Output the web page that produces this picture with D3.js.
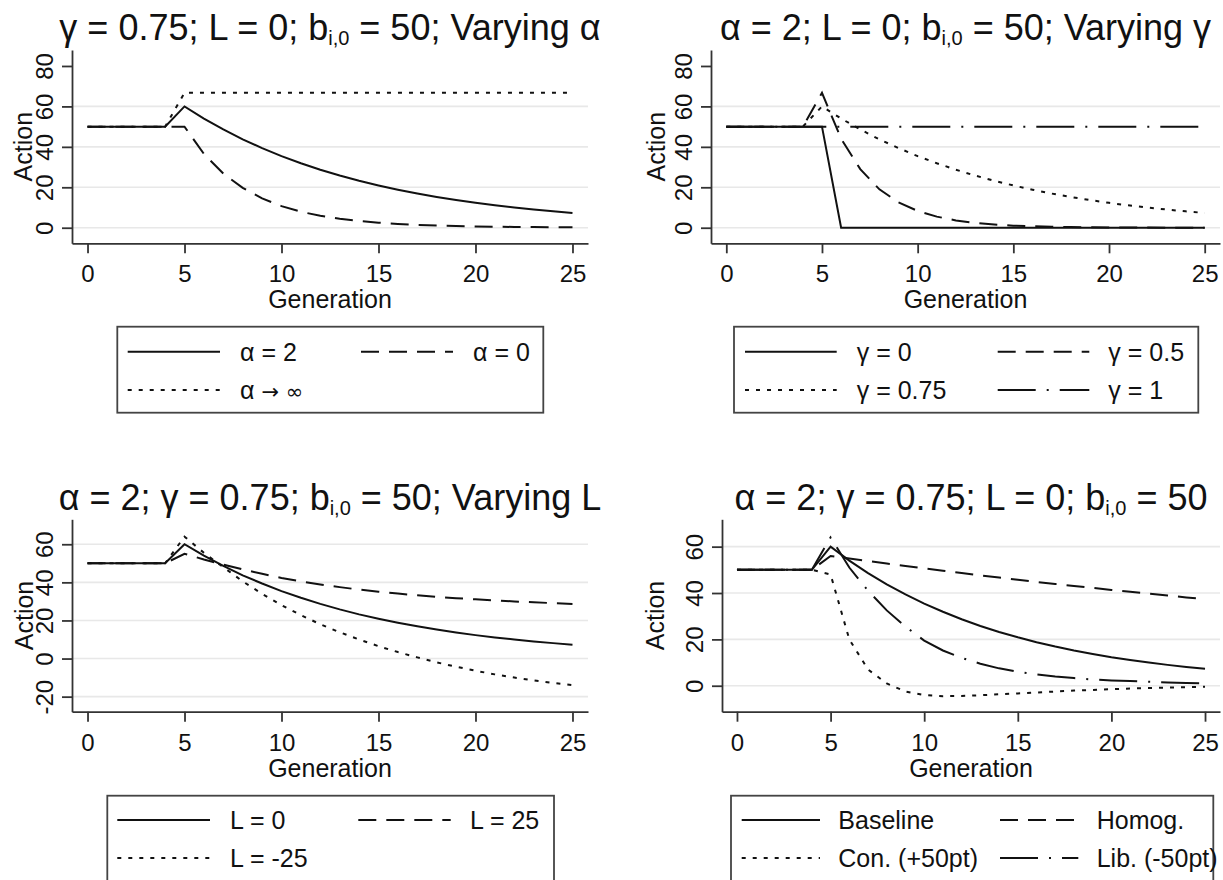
<!DOCTYPE html>
<html>
<head>
<meta charset="utf-8">
<script src="https://cdn.jsdelivr.net/npm/d3@7"></script>
<style>
  body { margin: 0; background: #fff; }
  svg { font-family: "Liberation Sans", Arial, sans-serif; }
</style>
</head>
<body>
<script>
// generations on the x axis
const generations = [0,1,2,3,4,5,6,7,8,9,10,11,12,13,14,15,16,17,18,19,20,21,22,23,24,25];
const xTicks = [0, 5, 10, 15, 20, 25];

// y ticks / gridlines per panel
const yTicksTop = [0, 20, 40, 60, 80];
const gridTop = [0, 20, 40, 60];
const yTicksL = [-20, 0, 20, 40, 60];
const gridL = [-20, 0, 20, 40, 60];
const yTicksLast = [0, 20, 40, 60];
const gridLast = [0, 20, 40, 60];

// alpha = 2, gamma = 0.75, L = 0 (same run in all four panels)
const baseline = [50,50,50,50,50,60,54,48.6,43.7,39.4,35.4,31.9,28.7,25.8,23.2,20.9,18.8,16.9,15.2,13.7,12.3,11.1,10.0,9.0,8.1,7.3];

// panel 1: varying alpha
const alpha0 = [50,50,50,50,50,50,36.5,26.8,19.7,14.5,10.7,7.9,5.9,4.4,3.3,2.5,1.9,1.4,1.1,0.8,0.6,0.5,0.4,0.3,0.2,0.2];
const alphaInf = [50,50,50,50,50,66.7,66.7,66.7,66.7,66.7,66.7,66.7,66.7,66.7,66.7,66.7,66.7,66.7,66.7,66.7,66.7,66.7,66.7,66.7,66.7,66.7];

// panel 2: varying gamma
const gamma0 = [50,50,50,50,50,50,0,0,0,0,0,0,0,0,0,0,0,0,0,0,0,0,0,0,0,0];
const gamma05 = [50,50,50,50,50,66.7,44,29,19,12.5,8.3,5.5,3.6,2.4,1.6,1.0,0.7,0.5,0.3,0.2,0.15,0.1,0.07,0.05,0.03,0.02];
const gamma1 = [50,50,50,50,50,50,50,50,50,50,50,50,50,50,50,50,50,50,50,50,50,50,50,50,50,50];

// panel 3: varying L
const L25 = [50,50,50,50,50,55,52,49.3,46.8,44.5,42.3,40.5,38.9,37.5,36.2,35.1,34.1,33.2,32.4,31.7,31.1,30.5,30.0,29.5,29.1,28.7];
const Lm25 = [50,50,50,50,50,64,55.5,48,40.5,34,28,22.8,18,13.8,10,6.5,3.4,0.6,-2,-4.3,-6.4,-8.3,-10,-11.5,-12.8,-14];

// panel 4: heterogeneity
const homog = [50,50,50,50,50,56,54.9,53.8,52.7,51.7,50.6,49.6,48.6,47.6,46.7,45.7,44.8,43.9,43.0,42.2,41.3,40.5,39.7,38.9,38.1,37.4];
const con50 = [50,50,50,50,50,48,20,7,1,-2.5,-4,-4.5,-4.4,-4.1,-3.7,-3.3,-2.9,-2.5,-2.1,-1.8,-1.5,-1.2,-1,-0.8,-0.6,-0.4];
const lib50 = [50,50,50,50,50,64,51,41,32.5,25.5,19.5,15.2,12,9.5,7.5,6,4.9,4,3.3,2.7,2.3,2,1.7,1.4,1.2,1.0];

// line patterns
const dashes = {
  solid: null,
  dash: "18,10",
  dot: "4,7",
  dashdot: "38,11,2,11"
};

const panels = [
  {
    frame: {l: 72, r: 588, t: 50, b: 243.3},
    yDomain: [-7.7, 87.9], yTicks: yTicksTop, grid: gridTop,
    titleY: 39.5, pre: "γ = 0.75; L = 0; b", post: " = 50; Varying α",
    actionX: 31.5,
    series: [[baseline, "solid"], [alpha0, "dash"], [alphaInf, "dot"]],
    labels: [[["α = 2"]], [["α = 0"]], [["α "], ["→ ∞", 21]]],
    legend: {box: [117.3, 543.3, 326.7, 412.7], cols: [[127.7, 220, 240], [361, 453, 473]], rows: [351.7, 390]}
  },
  {
    frame: {l: 711, r: 1220, t: 50, b: 243.3},
    yDomain: [-7.7, 87.9], yTicks: yTicksTop, grid: gridTop,
    titleY: 39.5, pre: "α = 2; L = 0; b", post: " = 50; Varying γ",
    actionX: 665,
    series: [[gamma0, "solid"], [gamma05, "dash"], [baseline, "dot"], [gamma1, "dashdot"]],
    labels: [[["γ = 0"]], [["γ = 0.5"]], [["γ = 0.75"]], [["γ = 1"]]],
    legend: {box: [734, 1198.3, 326.7, 412.7], cols: [[745, 836.7, 856.7], [997.7, 1089.3, 1108.3]], rows: [351.7, 390]}
  },
  {
    frame: {l: 72, r: 588, t: 519.3, b: 711.7},
    yDomain: [-27.9, 73.1], yTicks: yTicksL, grid: gridL,
    titleY: 509.5, pre: "α = 2; γ = 0.75; b", post: " = 50; Varying L",
    actionX: 33,
    series: [[baseline, "solid"], [L25, "dash"], [Lm25, "dot"]],
    labels: [[["L = 0"]], [["L = 25"]], [["L = -25"]]],
    legend: {box: [107.3, 554, 795.7, 884], cols: [[117.3, 210, 230], [358.3, 450.7, 470]], rows: [820, 858]}
  },
  {
    frame: {l: 722, r: 1220, t: 519.3, b: 711.7},
    yDomain: [-11.2, 71.8], yTicks: yTicksLast, grid: gridLast,
    titleY: 509.5, pre: "α = 2; γ = 0.75; L = 0; b", post: " = 50",
    actionX: 664,
    series: [[baseline, "solid"], [homog, "dash"], [con50, "dot"], [lib50, "dashdot"]],
    labels: [[["Baseline"]], [["Homog."]], [["Con. (+50pt)"]], [["Lib. (-50pt)"]]],
    legend: {box: [731, 1213.3, 795.7, 884], cols: [[741.7, 820, 838.3], [1000, 1078.3, 1096.7]], rows: [820, 858]}
  }
];

const svg = d3.select("body").append("svg")
  .attr("width", 1223)
  .attr("height", 880);

svg.append("rect").attr("width", 1223).attr("height", 880).attr("fill", "#fff");

const ink = "#111";
const axisInk = "#333";

panels.forEach((p) => {
  const f = p.frame;
  const x = d3.scaleLinear().domain([-0.8, 25.8]).range([f.l, f.r]);
  const y = d3.scaleLinear().domain(p.yDomain).range([f.b, f.t]);
  const g = svg.append("g");

  // gridlines
  g.selectAll(".grid")
    .data(p.grid)
    .enter().append("line")
    .attr("x1", f.l).attr("x2", f.r)
    .attr("y1", (d) => y(d)).attr("y2", (d) => y(d))
    .attr("stroke", "#e8e8e8")
    .attr("stroke-width", 1.6);

  // y axis with rotated labels (plain hyphen for negatives, like the original)
  const yAxisG = g.append("g")
    .attr("transform", "translate(" + f.l + ",0)")
    .call(d3.axisLeft(y).tickValues(p.yTicks).tickSize(10).tickSizeOuter(0).tickFormat((d) => String(d)));
  yAxisG.selectAll("text")
    .attr("x", null).attr("dy", null)
    .attr("text-anchor", "middle")
    .attr("transform", "translate(-19,0) rotate(-90)");

  // x axis
  const xAxisG = g.append("g")
    .attr("transform", "translate(0," + f.b + ")")
    .call(d3.axisBottom(x).tickValues(xTicks).tickSize(10).tickSizeOuter(0));
  xAxisG.selectAll("text").attr("y", 39).attr("dy", null);

  [yAxisG, xAxisG].forEach((a) => {
    a.attr("font-family", null).attr("font-size", 24);
    a.selectAll("path.domain").attr("stroke", axisInk).attr("stroke-width", 1.8);
    a.selectAll(".tick line").attr("stroke", axisInk).attr("stroke-width", 1.8);
    a.selectAll("text").attr("fill", ink);
  });

  // axis titles
  g.append("text")
    .attr("transform", "translate(" + p.actionX + "," + (f.t + f.b) / 2 + ") rotate(-90)")
    .attr("text-anchor", "middle")
    .attr("font-size", 25)
    .attr("fill", ink)
    .text("Action");
  g.append("text")
    .attr("x", (f.l + f.r) / 2)
    .attr("y", f.b + 65)
    .attr("text-anchor", "middle")
    .attr("font-size", 25)
    .attr("fill", ink)
    .text("Generation");

  // title with subscript
  const t = g.append("text")
    .attr("x", (f.l + f.r) / 2)
    .attr("y", p.titleY)
    .attr("text-anchor", "middle")
    .attr("font-size", 36)
    .attr("fill", ink);
  t.append("tspan").text(p.pre);
  t.append("tspan").attr("font-size", 20).attr("dy", 5).text("i,0");
  t.append("tspan").attr("dy", -5).text(p.post);

  // the lines
  const line = d3.line()
    .x((d, i) => x(generations[i]))
    .y((d) => y(d));
  p.series.forEach((s) => {
    g.append("path")
      .datum(s[0])
      .attr("d", line)
      .attr("fill", "none")
      .attr("stroke", ink)
      .attr("stroke-width", 2)
      .attr("stroke-dasharray", dashes[s[1]]);
  });

  // legend
  const L = p.legend;
  const lg = svg.append("g");
  lg.append("rect")
    .attr("x", L.box[0]).attr("y", L.box[2])
    .attr("width", L.box[1] - L.box[0]).attr("height", L.box[3] - L.box[2])
    .attr("fill", "#fff")
    .attr("stroke", "#444")
    .attr("stroke-width", 1.8);
  p.labels.forEach((parts, i) => {
    const c = L.cols[i % 2];
    const ry = L.rows[Math.floor(i / 2)];
    lg.append("line")
      .attr("x1", c[0]).attr("x2", c[1])
      .attr("y1", ry).attr("y2", ry)
      .attr("stroke", ink)
      .attr("stroke-width", 2)
      .attr("stroke-dasharray", dashes[p.series[i][1]]);
    const tx = lg.append("text")
      .attr("x", c[2]).attr("y", ry + 9)
      .attr("font-size", 25)
      .attr("fill", ink);
    parts.forEach((pt) => {
      const sp = tx.append("tspan").text(pt[0]);
      if (pt[1]) sp.attr("font-size", pt[1]).attr("font-family", "DejaVu Sans");
    });
  });
});
</script>
</body>
</html>
